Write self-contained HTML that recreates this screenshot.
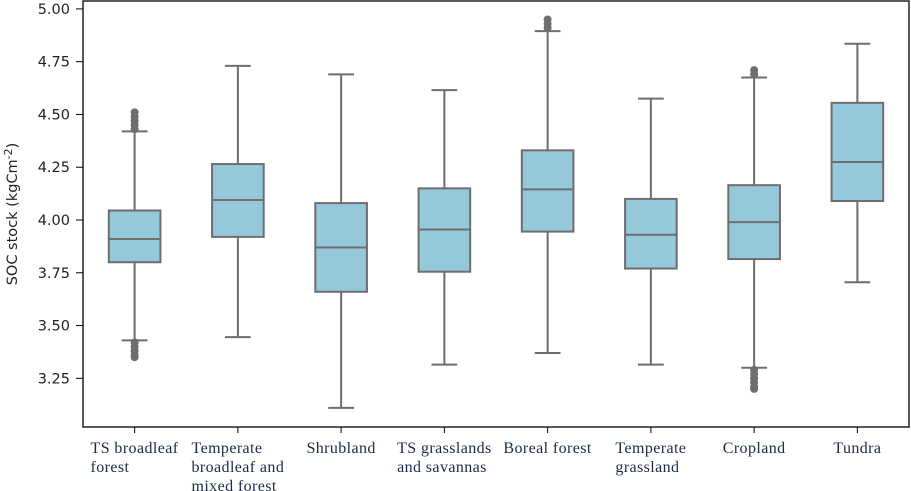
<!DOCTYPE html>
<html><head><meta charset="utf-8"><style>
html,body{margin:0;padding:0;background:#fff;}
svg{display:block;}
</style></head><body>
<svg id="chart" width="911" height="491" viewBox="0 0 911 491" xmlns="http://www.w3.org/2000/svg"></svg>
<script>
const categories = [["TS broadleaf","forest"],["Temperate","broadleaf and","mixed forest"],["Shrubland"],["TS grasslands","and savannas"],["Boreal forest"],["Temperate","grassland"],["Cropland"],["Tundra"]];
const whiskerLow = [3.43,3.445,3.11,3.315,3.37,3.315,3.30,3.705];
const q1 = [3.80,3.92,3.66,3.755,3.945,3.77,3.815,4.09];
const medians = [3.91,4.095,3.87,3.955,4.145,3.93,3.99,4.275];
const q3 = [4.045,4.265,4.08,4.15,4.33,4.10,4.165,4.555];
const whiskerHigh = [4.42,4.73,4.69,4.615,4.895,4.575,4.675,4.835];
const outliersHigh = [[4.43,4.45,4.47,4.49,4.51],[],[],[],[4.91,4.93,4.95],[],[4.69,4.71],[]];
const outliersLow = [[3.42,3.40,3.38,3.36,3.35],[],[],[],[],[],[3.29,3.27,3.25,3.23,3.21,3.20],[]];
const yTicks = [3.25,3.50,3.75,4.00,4.25,4.50,4.75,5.00];

const NS="http://www.w3.org/2000/svg";
const svg=document.getElementById('chart');
const L=83,R=909,T=1,B=427;
const yScale=v=>220-(v-4)*211.1;
const step=(R-L)/categories.length;
const xCenter=i=>L+step*(i+0.5);
function mk(tag,attrs,parent){const e=document.createElementNS(NS,tag);for(const k in attrs)e.setAttribute(k,attrs[k]);(parent||svg).appendChild(e);return e;}
const C="#6e6e6e";

const frame=mk('rect',{x:L,y:T,width:R-L,height:B-T,fill:'none',stroke:'#000','stroke-width':1.3});



yTicks.forEach(v=>{
  const y=yScale(v);
  const t=mk('line',{x1:L-7,x2:L,y1:y,y2:y,stroke:'#000','stroke-width':1});
  
  
  const tx=mk('text',{x:L-13,y:y+5,'text-anchor':'end','font-family':'DejaVu Sans, sans-serif','font-size':14.5,fill:'#222'});
  tx.textContent=v.toFixed(2);
  
  
});
const yt=mk('text',{x:0,y:0,transform:'translate(17,214) rotate(-90)','text-anchor':'middle','font-family':'DejaVu Sans, sans-serif','font-size':14.5,fill:'#222'});
yt.innerHTML='SOC stock (kgCm<tspan dy="-5" font-size="11">-2</tspan><tspan dy="5">)</tspan>';



categories.forEach((cat,i)=>{
  const cx=xCenter(i), bw=step*0.5, cw=step*0.25;
  const g=mk('g',{});
  
  
  mk('line',{x1:cx,x2:cx,y1:yScale(whiskerHigh[i]),y2:yScale(q3[i]),stroke:C,'stroke-width':2},g);
  mk('line',{x1:cx,x2:cx,y1:yScale(q1[i]),y2:yScale(whiskerLow[i]),stroke:C,'stroke-width':2},g);
  mk('line',{x1:cx-cw/2,x2:cx+cw/2,y1:yScale(whiskerHigh[i]),y2:yScale(whiskerHigh[i]),stroke:C,'stroke-width':2},g);
  mk('line',{x1:cx-cw/2,x2:cx+cw/2,y1:yScale(whiskerLow[i]),y2:yScale(whiskerLow[i]),stroke:C,'stroke-width':2},g);
  mk('rect',{x:cx-bw/2,y:yScale(q3[i]),width:bw,height:yScale(q1[i])-yScale(q3[i]),fill:'#96c8dc',stroke:C,'stroke-width':2},g);
  mk('line',{x1:cx-bw/2,x2:cx+bw/2,y1:yScale(medians[i]),y2:yScale(medians[i]),stroke:C,'stroke-width':2},g);
  outliersHigh[i].concat(outliersLow[i]).forEach(v=>{
    const c=mk('circle',{cx:cx,cy:yScale(v),r:3.5,fill:C,stroke:C,'stroke-width':1},g);
    
    
  });
  const tk=mk('line',{x1:cx,x2:cx,y1:B,y2:B+6,stroke:'#000','stroke-width':1});
  
  
  const lbl=mk('text',{x:0,y:0,'font-family':'Liberation Serif, serif','font-size':16,'letter-spacing':0.4,fill:'#1c2a48'});
  
  
  cat.forEach((s,j)=>{const ts=mk('tspan',{x:0,y:453+j*19},lbl);ts.textContent=s;});
  const bb=lbl.getBBox();
  const x0=cx-bb.width/2;
  Array.from(lbl.children).forEach(ts=>ts.setAttribute('x',x0));
});
</script>
</body></html>
